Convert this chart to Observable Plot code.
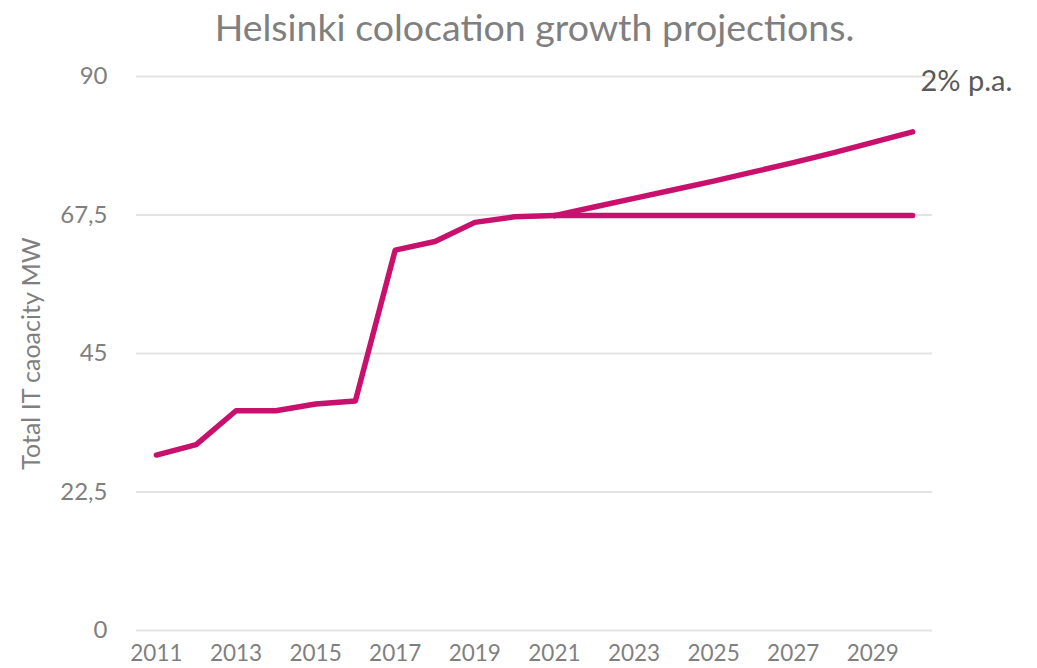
<!DOCTYPE html>
<html>
<head>
<meta charset="utf-8">
<script src="https://cdn.jsdelivr.net/npm/d3@7"></script>
<script src="https://cdn.jsdelivr.net/npm/@observablehq/plot@0.6"></script>
<style>
  html, body { margin: 0; padding: 0; background: #fff; overflow: hidden; }
  #chart { width: 1037px; height: 668px; }
</style>
</head>
<body>
<div id="chart"></div>
<script>
const titleText = "Helsinki colocation growth projections.";
const yLabel = "Total IT caoacity MW";
const noteText = "2% p.a.";

const actualYears = [2011, 2012, 2013, 2014, 2015, 2016, 2017, 2018, 2019, 2020, 2021];
const actualValues = [28.5, 30.2, 35.7, 35.7, 36.8, 37.3, 61.8, 63.2, 66.3, 67.2, 67.4];

const projYears = [2021, 2022, 2023, 2024, 2025, 2026, 2027, 2028, 2029, 2030];
const flatValues = [67.4, 67.4, 67.4, 67.4, 67.4, 67.4, 67.4, 67.4, 67.4, 67.4];
const growthValues = [67.4, 68.8, 70.2, 71.6, 73.0, 74.5, 76.0, 77.6, 79.3, 81.0];

const yTicks = [0, 22.5, 45, 67.5, 90];
const xTicks = [2011, 2013, 2015, 2017, 2019, 2021, 2023, 2025, 2027, 2029];

const actual = actualYears.map((x, i) => ({x, y: actualValues[i]}));
const flat = projYears.map((x, i) => ({x, y: flatValues[i]}));
const growth = projYears.map((x, i) => ({x, y: growthValues[i]}));

const lineColor = "#C8106C";
const textColor = "#7f7f7f";

const chart = Plot.plot({
  width: 1037,
  height: 668,
  marginTop: 76,
  marginBottom: 38,
  marginLeft: 136,
  marginRight: 105,
  style: {fontFamily: "Lato", fontSize: "22px", color: textColor, background: "#fff"},
  x: {domain: [2010.5, 2030.5]},
  y: {domain: [0, 90]},
  marks: [
    Plot.ruleY(yTicks, {stroke: "#e3e3e3", strokeWidth: 2}),
    Plot.axisY({ticks: yTicks, tickSize: 0, tickPadding: 29, tickFormat: d => String(d).replace(".", ","), label: null, fill: textColor, fontSize: 24}),
    Plot.axisX({ticks: xTicks, tickSize: 0, tickPadding: 15, tickFormat: d => String(d), label: null, fill: textColor, fontSize: 22.5}),
    Plot.line(growth, {x: "x", y: "y", stroke: lineColor, strokeWidth: 5.5, strokeLinecap: "round", strokeLinejoin: "round"}),
    Plot.line(flat, {x: "x", y: "y", stroke: lineColor, strokeWidth: 5.5, strokeLinecap: "round", strokeLinejoin: "round"}),
    Plot.line(actual, {x: "x", y: "y", stroke: lineColor, strokeWidth: 5.5, strokeLinecap: "round", strokeLinejoin: "round"}),
    Plot.text([titleText], {frameAnchor: "top", dy: -36, lineAnchor: "bottom", fontSize: 37.5, fill: textColor, text: d => d}),
    Plot.text([noteText], {frameAnchor: "top-right", dx: -12, dy: 14, textAnchor: "start", lineAnchor: "bottom", fontSize: 29, fill: "#595959", text: d => d}),
    Plot.text([yLabel], {frameAnchor: "left", dx: -97, rotate: -90, textAnchor: "middle", lineAnchor: "bottom", fontSize: 25, fill: textColor, text: d => d})
  ]
});
document.getElementById("chart").appendChild(chart);
</script>
</body>
</html>
